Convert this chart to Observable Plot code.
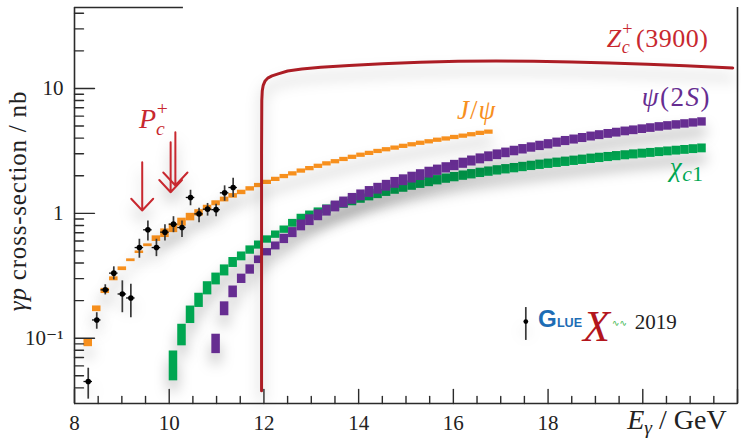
<!DOCTYPE html>
<html><head><meta charset="utf-8">
<script src="https://cdn.jsdelivr.net/npm/d3@7"></script>
<script src="https://cdn.jsdelivr.net/npm/@observablehq/plot@0.6"></script>
<style>html,body{margin:0;padding:0;background:#fff}svg{display:block}</style>
</head><body><div id="chart"></div>
<script>
// ---------- data ----------
const binCenters = [
  8.29, 8.47, 8.65, 8.83, 9.01, 9.19, 9.37, 9.55, 9.73, 9.91,
  10.09, 10.27, 10.45, 10.63, 10.81, 10.99, 11.17, 11.35, 11.53, 11.71,
  11.89, 12.07, 12.25, 12.43, 12.61, 12.79, 12.97, 13.15, 13.33, 13.51,
  13.69, 13.87, 14.05, 14.23, 14.41, 14.59, 14.77, 14.95, 15.13, 15.31,
  15.49, 15.67, 15.85, 16.03, 16.21, 16.39, 16.57, 16.75, 16.93, 17.11,
  17.29, 17.47, 17.65, 17.83, 18.01, 18.19, 18.37, 18.55, 18.73, 18.91,
  19.09, 19.27, 19.45, 19.63, 19.81, 19.99, 20.17, 20.35, 20.53, 20.71,
  20.89, 21.07, 21.25
];
const binHalfWidth = 0.09;

const jpsiFirstBin = 0;
const jpsiXS = [
  0.0915, 0.172, 0.239, 0.299, 0.360, 0.421, 0.488, 0.555, 0.627, 0.693,
  0.758, 0.850, 0.933, 1.008, 1.104, 1.204, 1.29, 1.38, 1.47, 1.57,
  1.67, 1.77, 1.87, 1.97, 2.07, 2.18, 2.28, 2.38, 2.49, 2.59,
  2.70, 2.81, 2.92, 3.02, 3.13, 3.23, 3.33, 3.44, 3.54, 3.64,
  3.74, 3.85, 3.94, 4.05, 4.15, 4.26, 4.37, 4.47
];
const jpsiRelErr = [
  0.07, 0.054, 0.049, 0.037, 0.035, 0.026, 0.024, 0.026, 0.053, 0.083,
  0.082, 0.076, 0.072, 0.061, 0.051, 0.047, 0.045, 0.043, 0.042, 0.041,
  0.04, 0.04, 0.04, 0.04, 0.04, 0.04, 0.04, 0.04, 0.04, 0.04,
  0.04, 0.04, 0.04, 0.04, 0.04, 0.04, 0.04, 0.04, 0.04, 0.04,
  0.04, 0.04, 0.04, 0.04, 0.04, 0.04, 0.04, 0.04
];

const chic1FirstBin = 10;
const chic1XS = [
  0.060, 0.106, 0.154, 0.201, 0.251, 0.298, 0.349, 0.404, 0.452, 0.508,
  0.557, 0.617, 0.675, 0.740, 0.832, 0.912, 0.966, 1.021, 1.076, 1.135,
  1.194, 1.253, 1.312, 1.371, 1.429, 1.489, 1.549, 1.607, 1.667, 1.726,
  1.782, 1.841, 1.897, 1.950, 2.004, 2.056, 2.109, 2.158, 2.208, 2.254,
  2.301, 2.350, 2.399, 2.449, 2.495, 2.541, 2.588, 2.636, 2.685, 2.735,
  2.780, 2.825, 2.871, 2.917, 2.965, 3.006, 3.048, 3.090, 3.133, 3.177,
  3.221, 3.266, 3.311
];
const chic1RelErr = [
  0.317, 0.22, 0.175, 0.14, 0.129, 0.115, 0.107, 0.096, 0.085, 0.08,
  0.078, 0.07, 0.07, 0.07, 0.075, 0.078, 0.08, 0.082, 0.084, 0.086,
  0.088, 0.09, 0.09, 0.09, 0.09, 0.09, 0.09, 0.09, 0.09, 0.09,
  0.09, 0.09, 0.09, 0.09, 0.09, 0.09, 0.09, 0.09, 0.09, 0.09,
  0.09, 0.09, 0.09, 0.09, 0.09, 0.09, 0.09, 0.09, 0.09, 0.09,
  0.09, 0.088, 0.088, 0.087, 0.087, 0.086, 0.086, 0.085, 0.085, 0.085,
  0.085, 0.085, 0.085
];

const psi2sFirstBin = 15;
const psi2sXS = [
  0.090, 0.172, 0.235, 0.299, 0.355, 0.425, 0.488, 0.548, 0.624, 0.701,
  0.800, 0.881, 0.964, 1.050, 1.135, 1.222, 1.306, 1.393, 1.483, 1.574,
  1.663, 1.754, 1.841, 1.932, 2.023, 2.118, 2.213, 2.312, 2.415, 2.518,
  2.624, 2.729, 2.838, 2.944, 3.048, 3.155, 3.258, 3.365, 3.467, 3.573,
  3.681, 3.793, 3.899, 4.009, 4.121, 4.227, 4.325, 4.426, 4.529, 4.624,
  4.721, 4.819, 4.920, 5.012, 5.105, 5.200, 5.297, 5.395
];
const psi2sRelErr = [
  0.196, 0.137, 0.114, 0.09, 0.09, 0.073, 0.07, 0.076, 0.09, 0.097,
  0.105, 0.105, 0.105, 0.105, 0.105, 0.105, 0.105, 0.105, 0.105, 0.105,
  0.105, 0.105, 0.105, 0.105, 0.105, 0.105, 0.1, 0.1, 0.1, 0.098,
  0.097, 0.096, 0.095, 0.094, 0.093, 0.092, 0.091, 0.09, 0.09, 0.089,
  0.088, 0.088, 0.087, 0.087, 0.086, 0.086, 0.085, 0.085, 0.084, 0.084,
  0.083, 0.083, 0.082, 0.082, 0.081, 0.081, 0.08, 0.08
];

// GlueX 2019 measurement
const dataE  = [8.29, 8.47, 8.65, 8.83, 9.01, 9.19, 9.37, 9.55, 9.73, 9.91, 10.09, 10.27, 10.45, 10.63, 10.81, 10.99, 11.17, 11.35];
const dataXS = [0.045, 0.140, 0.244, 0.332, 0.226, 0.210, 0.532, 0.738, 0.532, 0.707, 0.819, 0.770, 1.34, 0.99, 1.08, 1.07, 1.46, 1.61];
const dataLo = [0.0325, 0.118, 0.222, 0.293, 0.160, 0.146, 0.437, 0.60, 0.45, 0.60, 0.70, 0.64, 1.15, 0.84, 0.95, 0.94, 1.25, 1.34];
const dataHi = [0.0575, 0.160, 0.268, 0.373, 0.288, 0.270, 0.62, 0.87, 0.62, 0.81, 0.94, 0.87, 1.53, 1.10, 1.20, 1.18, 1.66, 1.91];
const dataEHalfWidth = 0.09;

// Z_c+(3900) prediction
const zcE  = [11.95, 11.95, 11.955, 11.965, 11.985, 12.02, 12.08, 12.17, 12.3, 12.5, 12.8, 13.2, 13.8, 14.5, 15.3, 16.1, 16.9, 17.7, 18.5, 19.3, 20.1, 20.9, 21.9];
const zcXS = [0.038, 3.0, 8.0, 9.6, 10.6, 11.4, 12.1, 12.6, 13.1, 13.8, 14.3, 14.8, 15.3, 15.8, 16.2, 16.5, 16.6, 16.5, 16.3, 16.0, 15.6, 15.2, 14.6];

// P_c+ arrows
const pcE   = [9.43, 10.03, 10.13];
const pcTop = [2.57, 3.71, 4.46];
const pcTip = [1.054, 1.476, 1.67];

// legend marker
const legendE = [17.53], legendXS = [0.136], legendLo = [0.096], legendHi = [0.176];

// axes
const xTickLabels = [8, 10, 12, 14, 16, 18];
const xMajorTicks = [8, 10, 12, 14, 16, 18, 20, 22];
const xMinorTicks = [8.5, 9, 9.5, 10.5, 11, 11.5, 12.5, 13, 13.5, 14.5, 15, 15.5, 16.5, 17, 17.5, 18.5, 19, 19.5, 20.5, 21, 21.5];
const yTickLabels = [0.1, 1, 10];
const yMinorTicks = [0.04, 0.05, 0.06, 0.07, 0.08, 0.09, 0.2, 0.3, 0.4, 0.5, 0.6, 0.7, 0.8, 0.9, 2, 3, 4, 5, 6, 7, 8, 9, 20, 30, 40];
const xDomain = [8, 22];
const yDomain = [0.03, 44.5];

// ---------- build ----------
const SERIF = "'Liberation Serif', 'DejaVu Serif', serif";
const SANS = "'Liberation Sans', 'DejaVu Sans', sans-serif";
const ORANGE = "#f7901e", PURPLE = "#662d91", GREEN = "#00a651", ZCRED = "#ac1d25", PCRED = "#c8282f", AX = "#2b2b2b";

const rows = (first, xs, rel) => xs.map((v, i) => ({e: binCenters[first + i], v, lo: v / (1 + rel[i]), hi: v * (1 + rel[i])}));
const jpsi = rows(jpsiFirstBin, jpsiXS, jpsiRelErr);
const chic1 = rows(chic1FirstBin, chic1XS, chic1RelErr);
const psi2s = rows(psi2sFirstBin, psi2sXS, psi2sRelErr);
const pts = dataE.map((e, i) => ({e, v: dataXS[i], lo: dataLo[i], hi: dataHi[i]}));
const leg = legendE.map((e, i) => ({e, v: legendXS[i], lo: legendLo[i], hi: legendHi[i]}));
const zc = zcE.map((e, i) => ({e, v: zcXS[i]}));

const tickShape = {draw(ctx, l) { ctx.moveTo(0, 0); ctx.lineTo(0, -l); }};
const bandOpts = fill => ({x1: d => d.e - binHalfWidth, x2: d => d.e + binHalfWidth, y1: "lo", y2: "hi", fill});

const plot = Plot.plot({
  width: 741, height: 440,
  marginLeft: 74, marginRight: 4, marginTop: 7, marginBottom: 37,
  x: {domain: xDomain},
  y: {type: "log", domain: yDomain},
  style: {fontFamily: SERIF, fontSize: "21px", background: "#fff", overflow: "visible", color: "#222"},
  marks: [
    Plot.rect(chic1, bandOpts(GREEN)),
    Plot.rect(psi2s, bandOpts(PURPLE)),
    Plot.rect(jpsi, bandOpts(ORANGE)),
    Plot.ruleX(pts, {x: "e", y1: "lo", y2: "hi", stroke: "#3a3a3a", strokeWidth: 1.7}),
    Plot.ruleY(pts, {y: "v", x1: d => d.e - dataEHalfWidth, x2: d => d.e + dataEHalfWidth, stroke: "#111", strokeWidth: 1.3}),
    Plot.dot(pts, {x: "e", y: "v", r: 2.8, fill: "#000"}),
    Plot.ruleX(leg, {x: "e", y1: "lo", y2: "hi", stroke: "#3a3a3a", strokeWidth: 1.7}),
    Plot.dot(leg, {x: "e", y: "v", r: 2.4, fill: "#000"}),
    Plot.line(zc, {x: "e", y: "v", stroke: ZCRED, strokeWidth: 3}),
    Plot.arrow(pcE, {x1: d => d, x2: d => d, y1: (d, i) => pcTop[i], y2: (d, i) => pcTip[i], stroke: PCRED, strokeWidth: 2, headLength: 17, headAngle: 86}),
    // frame
    Plot.ruleX([xDomain[0], xDomain[1]], {x: d => d, y1: yDomain[0], y2: yDomain[1], stroke: AX, strokeWidth: 1.6}),
    Plot.ruleY([yDomain[0]], {y: d => d, x1: xDomain[0], x2: xDomain[1], stroke: AX, strokeWidth: 1.6}),
    Plot.ruleY([yDomain[1]], {y: d => d, x1: xDomain[0], x2: 10.3, stroke: AX, strokeWidth: 1.6}),
    // inward ticks
    Plot.vector(yTickLabels, {x: xDomain[0], y: d => d, length: 20, rotate: 90, anchor: "start", shape: tickShape, stroke: AX, strokeWidth: 1.4}),
    Plot.vector(yMinorTicks, {x: xDomain[0], y: d => d, length: 9, rotate: 90, anchor: "start", shape: tickShape, stroke: AX, strokeWidth: 1.4}),
    Plot.vector(xMajorTicks, {x: d => d, y: yDomain[0], length: 14, rotate: 0, anchor: "start", shape: tickShape, stroke: AX, strokeWidth: 1.4}),
    Plot.vector(xMinorTicks, {x: d => d, y: yDomain[0], length: 7, rotate: 0, anchor: "start", shape: tickShape, stroke: AX, strokeWidth: 1.4}),
    Plot.axisX({ticks: xTickLabels, tickSize: 0, tickPadding: 12, label: null, fontSize: 21, tickFormat: d => String(d)}),
    Plot.axisY({ticks: yTickLabels, tickSize: 0, tickPadding: 11, label: null, fontSize: 21, tickFormat: d => d === 0.1 ? "10\u207B\u00B9" : String(d)})
  ]
});
document.getElementById("chart").appendChild(plot);

// ---------- shadows & rich-text annotations ----------
const svg = d3.select(plot);
svg.selectAll("text").style("font-family", SERIF);
const sx = plot.scale("x"), sy = plot.scale("y");
const X = v => sx.apply(v), Y = v => sy.apply(v);
svg.selectAll('g[aria-label="rect"], g[aria-label="line"], g[aria-label="dot"], g[aria-label="arrow"]')
  .style("filter", "drop-shadow(0px 10px 7px rgba(0,0,0,0.28))");

function rich(x, y, parts, {fill = "#000", size = 24, anchor = "start", rotate = null, family = SERIF, spacing = 0} = {}) {
  const t = svg.append("text").attr("x", x).attr("y", y).attr("fill", fill)
    .style("font-family", family).attr("font-size", size).attr("text-anchor", anchor);
  if (spacing) t.style("letter-spacing", spacing + "px");
  if (rotate != null) t.attr("transform", `rotate(${rotate},${x},${y})`);
  let cur = 0;
  for (const p of parts) {
    const shift = p.shift || 0;
    const s = t.append("tspan").text(p.t)
      .attr("font-style", p.it ? "italic" : "normal")
      .attr("font-weight", p.bold ? "bold" : "normal")
      .attr("font-size", size * (p.scale || 1))
      .attr("dy", shift - cur);
    if (p.dx) s.attr("dx", p.dx);
    if (p.fill) s.attr("fill", p.fill);
    if (p.family) s.style("font-family", p.family);
    cur = shift;
  }
  return t;
}

// Z_c^+(3900)
rich(X(19.25), Y(21.1), [
  {t: "Z", it: true}, {t: "c", it: true, scale: 0.7, shift: 6}, {t: "+", scale: 0.7, shift: -12, dx: -8},
  {t: "(3900)", shift: 0, dx: 3}
], {fill: PCRED, size: 26, spacing: 0.5});
// P_c^+
rich(X(9.37), Y(4.78), [
  {t: "P", it: true}, {t: "c", it: true, scale: 0.7, shift: 7}, {t: "+", scale: 0.7, shift: -13, dx: -8}
], {fill: PCRED, size: 28});
// J/psi
rich(X(16.09), Y(5.64), [{t: "J", it: true}, {t: "/"}, {t: "\u03C8", it: true}], {fill: ORANGE, size: 27, spacing: 1});
// psi(2S)
rich(X(19.99), Y(7.17), [{t: "\u03C8", it: true}, {t: "(2"}, {t: "S", it: true}, {t: ")"}], {fill: PURPLE, size: 27, spacing: 1.5});
// chi_c1
rich(X(20.58), Y(1.97), [{t: "\u03C7", it: true}, {t: "c", it: true, scale: 0.8, shift: 5}, {t: "1", scale: 0.8, shift: 5}], {fill: GREEN, size: 27, spacing: 0.5});
// x-axis title
rich(X(19.68), 429, [{t: "E", it: true}, {t: "\u03B3", it: true, scale: 0.7, shift: 5}, {t: " / GeV", shift: 0}], {fill: "#222", size: 28});
// y-axis title
rich(26, 201, [{t: "\u03B3p", it: true}, {t: " cross-section / nb"}], {fill: "#222", size: 25, anchor: "middle", rotate: -90, spacing: 0.8});
// legend: GlueX logo + 2019 (single text element)
rich(X(17.80), Y(0.122), [
  {t: "G", bold: true, fill: "#1d6db5", scale: 1.15, family: SANS},
  {t: "LUE", bold: true, scale: 0.6, fill: "#1d6db5", family: SANS},
  {t: "X", it: true, fill: "#b3161d", scale: 2.1, shift: 14, dx: 1, family: SERIF},
  {t: "\u223F\u223F", fill: "#39b54a", scale: 0.42, shift: -1, dx: 2, family: "'DejaVu Sans', sans-serif"},
  {t: "2019", fill: "#222", scale: 1, shift: 2, dx: 8, family: SERIF}
], {size: 21, family: SERIF});
</script>
</body></html>
